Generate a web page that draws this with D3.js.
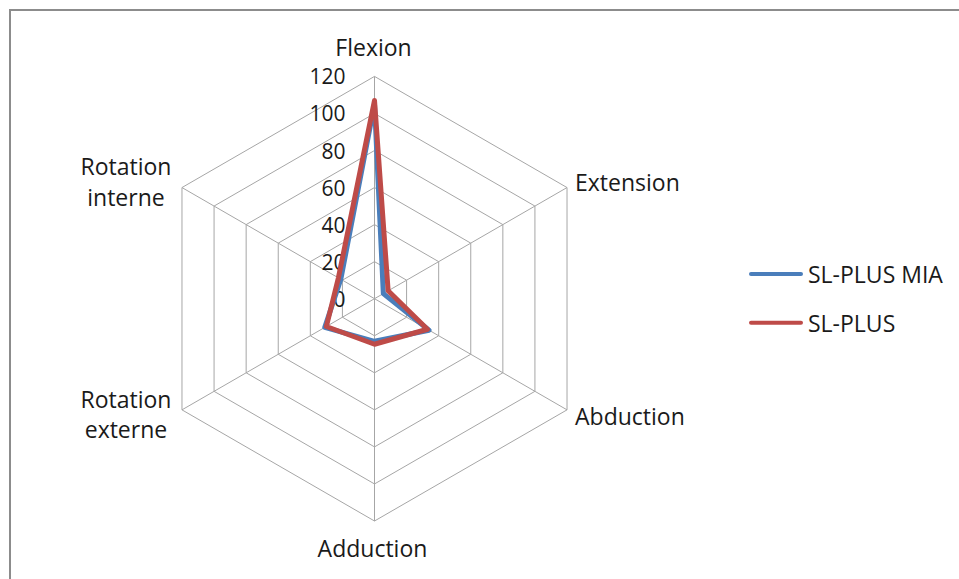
<!DOCTYPE html>
<html>
<head>
<meta charset="utf-8">
<script src="https://cdn.jsdelivr.net/npm/d3@7/dist/d3.min.js"></script>
<style>
  html, body { margin: 0; padding: 0; background: #fff; }
  svg { display: block; }
  text { font-family: "Open Sans", "Noto Sans", sans-serif; fill: #1a1a1a; }
</style>
</head>
<body>
<svg id="chart" width="959" height="579"></svg>
<script>
const categories = ["Flexion", "Extension", "Abduction", "Adduction", "Rotation externe", "Rotation interne"];
const seriesNames = ["SL-PLUS MIA", "SL-PLUS"];
const slPlusMia = [105, 5.5, 34, 23, 31, 21];
const slPlus = [107, 8.5, 33, 24.6, 30, 22.5];
const tickValues = [0, 20, 40, 60, 80, 100, 120];
const seriesColors = ["#4a7ebb", "#be4b48"];

const svg = d3.select("#chart");
const cx = 374.5, cy = 298.7, R = 222.3;
const r = d3.scaleLinear().domain([0, 120]).range([0, R]);
const angle = d3.scaleLinear().domain([0, categories.length]).range([0, 2 * Math.PI]);
const pt = (i, v) => [cx + r(v) * Math.sin(angle(i)), cy - r(v) * Math.cos(angle(i))];

// chart border
svg.append("path")
  .attr("d", "M10,579 L10,10 L959,10")
  .attr("fill", "none").attr("stroke", "#8c8c8c").attr("stroke-width", 2);

// grid rings
const g = svg.append("g");
tickValues.filter(v => v > 0).forEach(v => {
  const pts = categories.map((c, i) => pt(i, v));
  g.append("polygon")
    .attr("points", pts.map(p => p.join(",")).join(" "))
    .attr("fill", "none").attr("stroke", "#a6a6a6").attr("stroke-width", 1);
});
// spokes
categories.forEach((c, i) => {
  const p = pt(i, 120);
  g.append("line").attr("x1", cx).attr("y1", cy).attr("x2", p[0]).attr("y2", p[1])
    .attr("stroke", "#a6a6a6").attr("stroke-width", 1);
});

// tick labels
tickValues.forEach(v => {
  svg.append("text")
    .attr("x", cx - 29).attr("y", cy - r(v))
    .attr("text-anchor", "end").attr("dominant-baseline", "central")
    .attr("font-size", 21).text(v);
});

// series
const line = d3.lineRadial().angle((d, i) => angle(i)).radius(d => r(d)).curve(d3.curveLinearClosed);
[slPlusMia, slPlus].forEach((s, k) => {
  svg.append("path")
    .attr("transform", `translate(${cx},${cy})`)
    .attr("d", line(s))
    .attr("fill", "none").attr("stroke", seriesColors[k])
    .attr("stroke-width", 5).attr("stroke-linejoin", "round");
});

// category labels
const fs = 23;
function label(x, y, lines, anchor, dy) {
  const t = svg.append("text").attr("font-size", fs).attr("text-anchor", anchor);
  lines.forEach((l, j) => t.append("tspan").attr("x", x).attr("y", y + j * dy).text(l));
}
const v0 = pt(0, 120), v1 = pt(1, 120), v2 = pt(2, 120), v3 = pt(3, 120), v4 = pt(4, 120), v5 = pt(5, 120);
label(v0[0] - 1, v0[1] - 20, [categories[0]], "middle", 0);
label(v1[0] + 8, v1[1] + 3, [categories[1]], "start", 0);
label(v2[0] + 8, v2[1] + 15, [categories[2]], "start", 0);
label(v3[0] - 2, v3[1] + 36, [categories[3]], "middle", 0);
label(v4[0] - 56, v4[1] - 1.6, categories[4].split(" "), "middle", 30);
label(v5[0] - 56, v5[1] - 12.7, categories[5].split(" "), "middle", 30.7);

// legend
seriesNames.forEach((n, k) => {
  const y = 274 + k * 48.7;
  svg.append("line").attr("x1", 751).attr("x2", 801).attr("y1", y).attr("y2", y)
    .attr("stroke", seriesColors[k]).attr("stroke-width", 4).attr("stroke-linecap", "round");
  svg.append("text").attr("x", 808).attr("y", y + 9).attr("font-size", fs).text(n);
});
</script>
</body>
</html>
